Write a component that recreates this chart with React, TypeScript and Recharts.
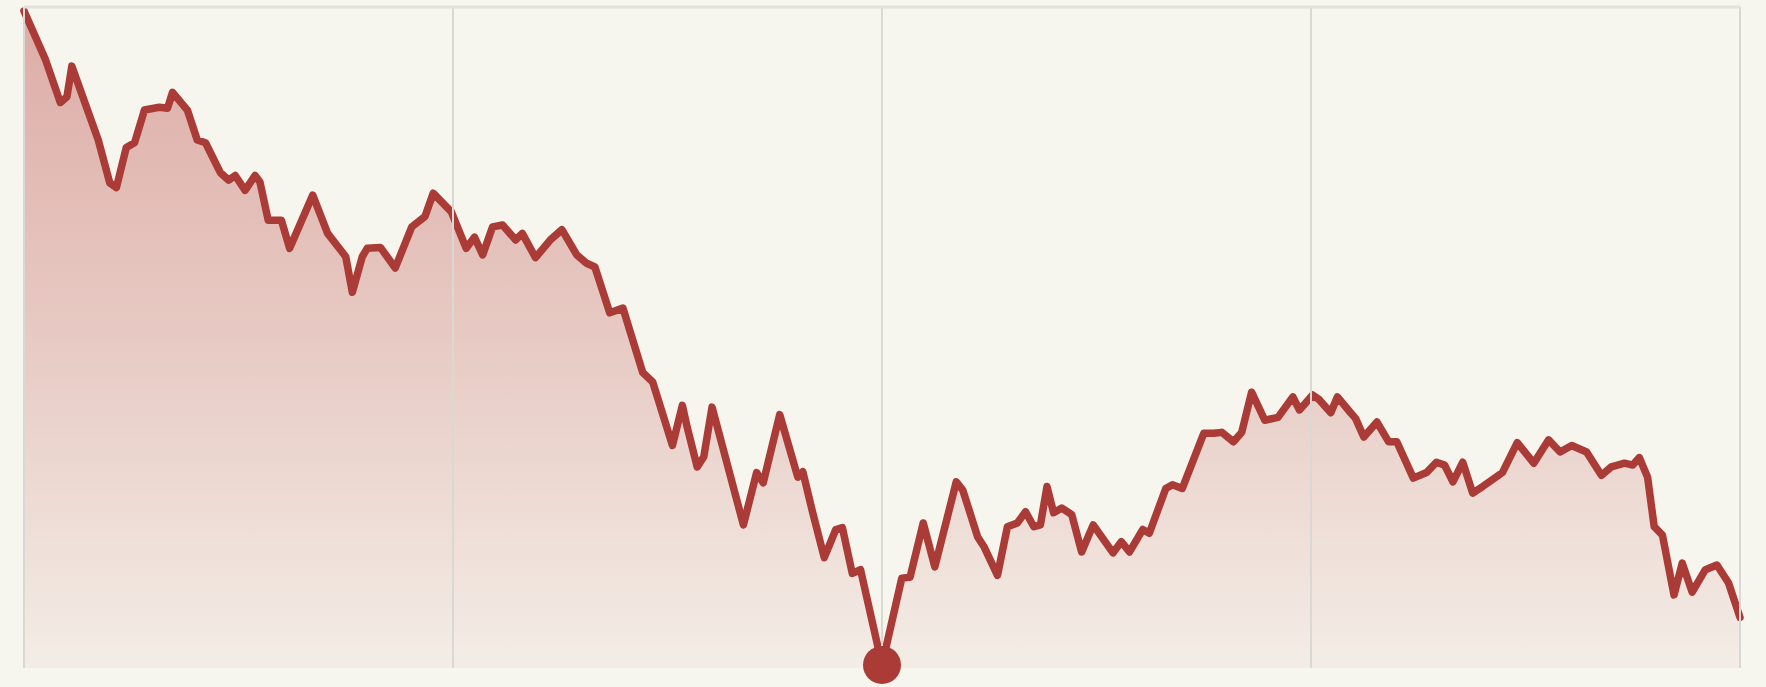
import React from "react";
import { AreaChart, Area, XAxis, YAxis, ReferenceLine, ReferenceDot } from "recharts";

// weeks since start (20 years = 1040 weeks)
const weeks = [
  0, 13, 22, 26, 29, 45, 52, 56, 62, 67, 73, 82, 87, 90, 99, 105, 110, 119, 124, 128,
  134, 140, 143, 148, 156, 161, 175, 184, 192, 195, 199, 205, 208, 216, 225, 235, 243, 248, 259, 268,
  273, 278, 284, 290, 298, 302, 310, 319, 326, 335, 341, 346, 355, 363, 375, 381, 393, 399, 402, 408,
  412, 417, 436, 444, 448, 458, 469, 472, 478, 485, 492, 496, 502, 507, 520, 532, 537, 545, 552, 565,
  569, 578, 582, 590, 596, 602, 607, 612, 616, 620, 624, 629, 635, 641, 648, 660, 665, 670, 678, 682,
  692, 696, 702, 715, 721, 726, 733, 738, 744, 752, 760, 769, 773, 781, 785, 792, 796, 804, 807, 812,
  820, 827, 832, 842, 850, 856, 861, 866, 872, 878, 884, 892, 896, 905, 915, 924, 931, 938, 947, 956,
  962, 970, 975, 979, 984, 988, 993, 1000, 1005, 1011, 1019, 1026, 1033, 1040,
];

// index level
const values = [
  100, 94.8, 90.2, 90.8, 94.1, 86.2, 81.6, 81.1, 85.4, 85.9, 89.4, 89.7, 89.6, 91.3, 89.4, 86.2, 85.9, 82.7, 81.9, 82.4,
  80.8, 82.4, 81.7, 77.6, 77.6, 74.6, 80.3, 76.2, 74.4, 73.7, 69.9, 73.7, 74.6, 74.7, 72.5, 76.9, 78.0, 80.5, 78.5, 74.6,
  75.8, 73.9, 76.9, 77.1, 75.5, 76.2, 73.6, 75.5, 76.6, 73.9, 73.0, 72.6, 67.7, 68.2, 61.3, 60.3, 53.5, 57.8, 55.4, 51.2,
  52.3, 57.6, 45.0, 50.6, 49.5, 56.8, 50.1, 50.7, 46.3, 41.5, 44.5, 44.7, 39.8, 40.2, 30.0, 39.3, 39.4, 45.2, 40.5, 49.6,
  48.7, 43.7, 42.6, 39.6, 44.8, 45.2, 46.4, 44.8, 45.0, 49.1, 46.3, 46.8, 46.1, 42.1, 45.0, 42.0, 43.2, 42.1, 44.5, 44.1,
  48.9, 49.3, 48.9, 54.8, 54.8, 54.9, 53.9, 54.9, 59.2, 56.2, 56.5, 58.7, 57.3, 58.9, 58.4, 57.0, 58.7, 57.0, 56.4, 54.4,
  56.0, 53.9, 53.9, 50.0, 50.6, 51.7, 51.4, 49.6, 51.7, 48.4, 49.1, 50.1, 50.6, 53.8, 51.6, 54.1, 52.8, 53.5, 52.8, 50.3,
  51.2, 51.6, 51.4, 52.2, 50.1, 44.8, 43.9, 37.5, 40.9, 37.8, 40.2, 40.7, 38.8, 35.1,
];

const gridWeeks = [0, 260, 520, 780, 1040];

const BG = "#F6F5EE";
const LINE = "#AA3B36";
const GRID = "#D9D8D3";
const Y_MIN = 29.68;
const Y_MAX = 100.43;

export default function App() {
  const data = weeks.map((w, i) => ({ week: w, value: values[i] }));
  const lowest = Math.min(...values);
  const lowIdx = values.indexOf(lowest);

  return (
    <div style={{ position: "absolute", left: 0, top: 0, width: 1766, height: 687, background: BG }}>
      <AreaChart width={1766} height={687} data={data} margin={{ top: 7, right: 26, bottom: 19, left: 24 }}>
        <defs>
          <linearGradient id="fadeRed" x1="0" y1="0" x2="0" y2="1">
            <stop offset="0%" stopColor="#BE504B" stopOpacity={0.44} />
            <stop offset="50%" stopColor="#BE504B" stopOpacity={0.26} />
            <stop offset="100%" stopColor="#BE504B" stopOpacity={0.05} />
          </linearGradient>
        </defs>
        <XAxis type="number" dataKey="week" domain={[0, 1040]} hide />
        <YAxis type="number" domain={[Y_MIN, Y_MAX]} hide />
        {gridWeeks.map((w) => (
          <ReferenceLine key={w} x={w} stroke={GRID} strokeWidth={2} />
        ))}
        <ReferenceLine y={Y_MAX} stroke="#E2E1DC" strokeWidth={3} />
        <Area
          type="linear"
          dataKey="value"
          stroke={LINE}
          strokeWidth={7.5}
          strokeLinejoin="round"
          strokeLinecap="round"
          fill="url(#fadeRed)"
          fillOpacity={1}
          dot={false}
          activeDot={false}
          isAnimationActive={false}
        />
        <ReferenceDot x={weeks[lowIdx]} y={lowest} r={19} fill={LINE} stroke="none" />
      </AreaChart>
    </div>
  );
}
